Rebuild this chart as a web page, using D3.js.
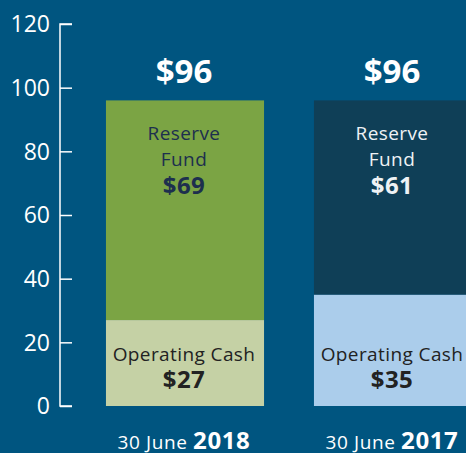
<!DOCTYPE html>
<html>
<head>
<meta charset="utf-8">
<script src="https://cdn.jsdelivr.net/npm/d3@7"></script>
<style>
  html, body { margin: 0; padding: 0; background: #005580; }
  svg { display: block; font-family: 'Open Sans', 'Noto Sans', sans-serif; }
</style>
</head>
<body>
<svg id="chart" width="466" height="453"></svg>
<script>
// data
const years = ['2018', '2017'];
const operatingCash = [27, 35];
const reserveFund = [69, 61];
const yTicks = [0, 20, 40, 60, 80, 100, 120];

const W = 466, H = 453;
const svg = d3.select('#chart');

svg.append('rect').attr('width', W).attr('height', H).attr('fill', '#005580');

const y = d3.scaleLinear().domain([0, 120]).range([406, 24]);
const x = d3.scaleBand().domain(years).range([81, 497]).paddingInner(0.24).paddingOuter(0.12);

const colors = {
  '2018': { op: '#c5d1a5', res: '#7ba444', resText: '#1d2f4e', opText: '#222222' },
  '2017': { op: '#abcdeb', res: '#0f3f57', resText: '#eef2f5', opText: '#222222' }
};

// axis
const axis = svg.append('g').attr('transform', 'translate(60,0)')
  .call(d3.axisRight(y).tickValues(yTicks).tickSize(12).tickFormat(''));
axis.select('.domain').attr('stroke', '#fff').attr('stroke-width', 1.5).attr('d', 'M12,' + y(120) + 'H0V' + y(0) + 'H12');
axis.selectAll('.tick line').attr('stroke', '#fff').attr('stroke-width', 1.5);

svg.append('g').selectAll('text').data(yTicks).enter().append('text')
  .attr('x', 50).attr('y', d => y(d)).attr('dy', '0.36em')
  .attr('text-anchor', 'end').attr('fill', '#fff').attr('font-size', 23)
  .text(d => d);

const data = years.map((yr, i) => ({ yr, op: operatingCash[i], res: reserveFund[i], total: operatingCash[i] + reserveFund[i] }));

const g = svg.append('g').selectAll('g').data(data).enter().append('g');

g.append('rect')
  .attr('x', d => x(d.yr)).attr('width', x.bandwidth())
  .attr('y', d => y(d.op)).attr('height', d => y(0) - y(d.op))
  .attr('fill', d => colors[d.yr].op);

g.append('rect')
  .attr('x', d => x(d.yr)).attr('width', x.bandwidth())
  .attr('y', d => y(d.total)).attr('height', d => y(d.op) - y(d.total))
  .attr('fill', d => colors[d.yr].res);

const cx = d => x(d.yr) + x.bandwidth() / 2 - 1;

// totals
g.append('text').attr('x', cx).attr('y', d => y(d.total) - 17)
  .attr('text-anchor', 'middle').attr('fill', '#fff')
  .attr('font-size', 33).attr('font-weight', 'bold')
  .text(d => '$' + d.total);

// reserve labels
const label = (sel, yy, txt, size, bold, fill) => sel.append('text')
  .attr('x', cx).attr('y', yy)
  .attr('text-anchor', 'middle').attr('fill', fill)
  .attr('font-size', size).attr('font-weight', bold ? 'bold' : 'normal')
  .attr('letter-spacing', bold ? 0.5 : 0.4)
  .text(txt);

label(g, d => y(d.total) + 40, 'Reserve', 19, false, d => colors[d.yr].resText);
label(g, d => y(d.total) + 66, 'Fund', 19, false, d => colors[d.yr].resText);
label(g, d => y(d.total) + 94, d => '$' + d.res, 24, true, d => colors[d.yr].resText);

// operating labels
label(g, y(0) - 45, 'Operating Cash', 19, false, d => colors[d.yr].opText);
label(g, y(0) - 18, d => '$' + d.op, 24, true, d => colors[d.yr].opText);

// year labels
const yl = g.append('text').attr('x', cx).attr('y', 449)
  .attr('text-anchor', 'middle').attr('fill', '#fff').attr('letter-spacing', 0.6);
yl.append('tspan').attr('font-size', 19).text('30 June ');
yl.append('tspan').attr('font-size', 24).attr('font-weight', 'bold').text(d => d.yr);
</script>
</body>
</html>
